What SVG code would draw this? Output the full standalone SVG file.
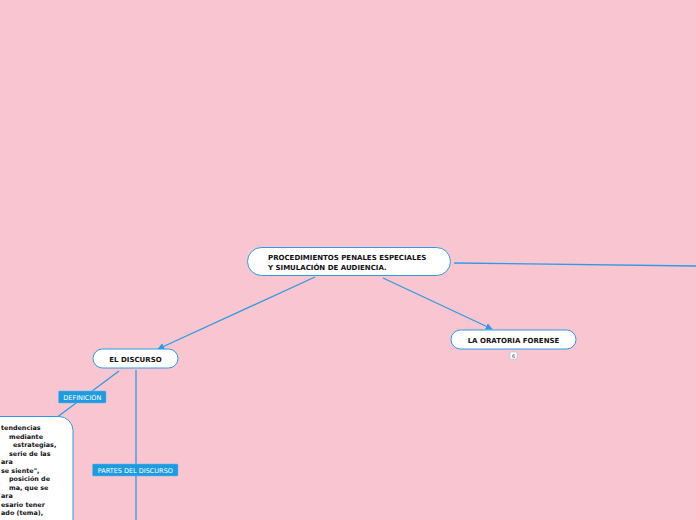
<svg xmlns="http://www.w3.org/2000/svg" width="696" height="520" viewBox="0 0 696 520">
<defs>
<style>
.node{fill:#fff;stroke:#2d9be3;stroke-width:1}
.t{font-family:"DejaVu Sans",Verdana,sans-serif;font-weight:bold;font-size:7px;fill:#111}
.lbl{fill:#1e9ae0;stroke:#5fb8ee;stroke-width:0.5}
.lt{font-family:"DejaVu Sans",Verdana,sans-serif;font-size:6.5px;fill:#fff}
.c{stroke:#2d9be3;stroke-width:1.3;fill:none}
.bt{font-family:"DejaVu Sans",Verdana,sans-serif;font-weight:bold;font-size:6.4px;fill:#111}
</style>
<marker id="ah" viewBox="0 0 10 10" refX="9" refY="5" markerWidth="7" markerHeight="7" orient="auto" markerUnits="userSpaceOnUse">
<path d="M0,0 L10,5 L0,10 z" fill="#2d9be3"/>
</marker>
</defs>
<rect width="696" height="520" fill="#f9c5d1"/>
<g id="connectors">
<path class="c" d="M454,263 L696,266"/>
<path class="c" d="M315,277 L158,349" marker-end="url(#ah)"/>
<path class="c" d="M383,278 L492,329" marker-end="url(#ah)"/>
<path class="c" d="M119,371 L56,418"/>
<path class="c" d="M136,370 L136,520"/>
</g>
<g id="central">
<rect class="node" x="247.5" y="247.5" width="203" height="28" rx="14"/>
<text class="t" x="268" y="260">PROCEDIMIENTOS PENALES ESPECIALES</text>
<text class="t" x="268" y="269.5">Y SIMULACIÓN DE AUDIENCIA.</text>
</g>
<g id="oratoria">
<rect class="node" x="451" y="330" width="125" height="19" rx="9.5"/>
<text class="t" x="513.5" y="343" text-anchor="middle">LA ORATORIA FORENSE</text>
<rect x="510" y="352" width="7" height="7" rx="1.5" fill="#fff" stroke="#8fc8ee" stroke-width="0.6"/>
<text x="513.5" y="357.8" text-anchor="middle" font-family="DejaVu Sans,sans-serif" font-size="5px" fill="#333">6</text>
</g>
<g id="discurso">
<rect class="node" x="93" y="349" width="85" height="19" rx="9.5"/>
<text class="t" x="135.5" y="361.5" text-anchor="middle">EL DISCURSO</text>
</g>
<g id="definicion">
<rect class="lbl" x="58.5" y="391" width="47.5" height="12" rx="1"/>
<text class="lt" x="82.3" y="399.5" text-anchor="middle">DEFINICIÓN</text>
</g>
<g id="partes">
<rect class="lbl" x="92.5" y="464" width="85.5" height="12" rx="1"/>
<text class="lt" x="135.3" y="472.5" text-anchor="middle">PARTES DEL DISCURSO</text>
</g>
<g id="definicion-text">
<rect class="node" x="-30" y="416.5" width="103" height="130" rx="14"/>
<text class="bt" x="1" y="430">tendencias</text>
<text class="bt" x="9" y="438.5">mediante</text>
<text class="bt" x="13" y="447">estrategias,</text>
<text class="bt" x="9" y="455.5">serie de las</text>
<text class="bt" x="1" y="464">ara</text>
<text class="bt" x="1" y="472.5">se siente",</text>
<text class="bt" x="9" y="481">posición de</text>
<text class="bt" x="9" y="489.5">ma, que se</text>
<text class="bt" x="1" y="498">ara</text>
<text class="bt" x="1" y="506.5">esario tener</text>
<text class="bt" x="1" y="515">ado (tema),</text>
</g>
</svg>
